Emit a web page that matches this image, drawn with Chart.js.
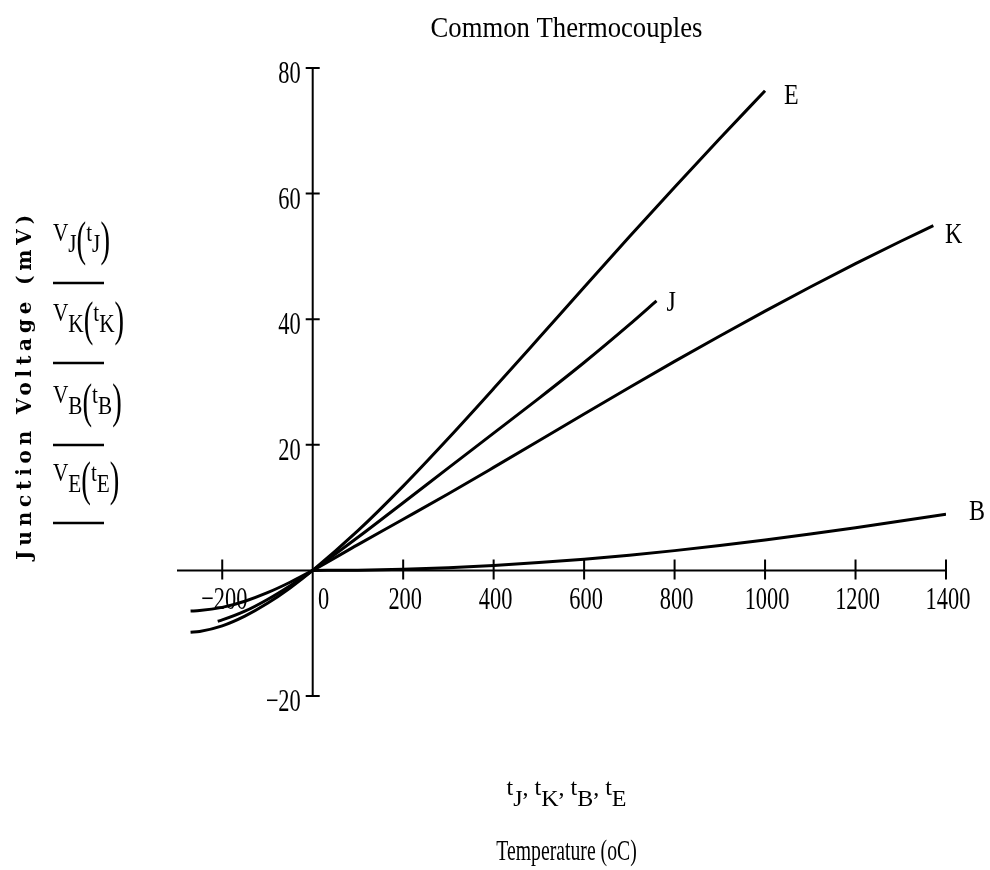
<!DOCTYPE html>
<html>
<head>
<meta charset="utf-8">
<title>Common Thermocouples</title>
<script src="https://cdn.jsdelivr.net/npm/chart.js@4.4.1/dist/chart.umd.min.js"></script>
<style>
  html, body { margin: 0; padding: 0; background: #fff; }
  #wrap { width: 990px; height: 870px; }
</style>
</head>
<body>
<div id="wrap"><canvas id="chart" width="990" height="870"></canvas></div>
<script>
/* Common Thermocouples — junction voltage (mV) vs temperature (°C)
   Mathcad-style plot: axes cross at the origin, ticks cross the axis lines. */

// ---------- data ----------
const J_TEMP = [-210, -200, -150, -100, -50, 0, 100, 200, 300, 400, 500, 600, 700, 760];
const J_MV   = [-8.10, -7.89, -6.50, -4.63, -2.43, 0, 5.27, 10.78, 16.33, 21.85, 27.39, 33.10, 39.13, 42.92];

const K_TEMP = [-270, -250, -200, -150, -100, -50, 0, 100, 200, 300, 400, 500, 600, 700, 800, 900, 1000, 1100, 1200, 1300, 1372];
const K_MV   = [-6.46, -6.40, -5.89, -4.91, -3.55, -1.89, 0, 4.10, 8.14, 12.21, 16.40, 20.64, 24.91, 29.13, 33.28, 37.33, 41.28, 45.12, 48.84, 52.41, 54.89];

const B_TEMP = [0, 100, 200, 300, 400, 500, 600, 700, 800, 900, 1000, 1100, 1200, 1300, 1400];
const B_MV   = [0, 0.03, 0.18, 0.43, 0.79, 1.24, 1.79, 2.43, 3.15, 3.96, 4.83, 5.78, 6.79, 7.85, 8.96];

const E_TEMP = [-270, -250, -200, -150, -100, -50, 0, 100, 200, 300, 400, 500, 600, 700, 800, 900, 1000];
const E_MV   = [-9.84, -9.72, -8.83, -7.28, -5.24, -2.79, 0, 6.32, 13.42, 21.04, 28.95, 37.00, 45.09, 53.11, 61.02, 68.79, 76.37];

const SERIES = ["J", "K", "B", "E"];

const X_MIN = -300, X_MAX = 1400;
const Y_MIN = -20, Y_MAX = 80;
const X_TICKS = [-200, 0, 200, 400, 600, 800, 1000, 1200, 1400];
const Y_TICKS = [-20, 0, 20, 40, 60, 80];

// curve end tags, anchored in data units (temperature, mV)
const TAG_TEMP = [782, 1398, 1451, 1042];
const TAG_MV   = [41.3, 52.2, 8.0, 74.3];

const TITLE = "Common Thermocouples";
const Y_TITLE = "Junction Voltage (mV)";
const X_TITLE = "Temperature (oC)";

// ---------- helpers ----------
const SERIF = '"Liberation Serif", "Times New Roman", serif';
const pts = (xs, ys) => xs.map((x, i) => ({ x, y: ys[i] }));

// draw text squeezed horizontally (the scan uses a narrow Times face)
function text(ctx, str, x, y, size, sx, align, weight) {
  ctx.save();
  ctx.font = (weight || "normal") + " " + size + "px " + SERIF;
  ctx.translate(x, y);
  ctx.scale(sx, 1);
  ctx.textAlign = align || "left";
  ctx.textBaseline = "alphabetic";
  ctx.fillText(str, 0, 0);
  const w = ctx.measureText(str).width * sx;
  ctx.restore();
  return w;
}

// run of pieces [str, size, sx, dy]; returns total width
function runWidth(ctx, parts) {
  let w = 0;
  for (const [s, size, sx] of parts) {
    ctx.font = size + "px " + SERIF;
    w += ctx.measureText(s).width * sx;
  }
  return w;
}
function drawRun(ctx, parts, x, base) {
  for (const [s, size, sx, dy] of parts) x += text(ctx, s, x, base + dy, size, sx);
}

// V_n(t_n) as Mathcad prints it
function fnParts(n) {
  return [["V", 25, 0.85, 0], [n, 25, 0.85, 11], ["(", 48, 0.6, 14], ["t", 25, 0.85, 0], [n, 25, 0.85, 11], [")", 48, 0.6, 14]];
}

// ---------- plugin: axes, ticks, labels ----------
const mathcadFrame = {
  id: "mathcadFrame",
  beforeDatasetsDraw(chart) {
    const { ctx, scales: { x, y } } = chart;
    const x0 = x.getPixelForValue(0), y0 = y.getPixelForValue(0);
    ctx.save();
    ctx.strokeStyle = "#000";
    ctx.lineWidth = 2;
    ctx.beginPath();
    ctx.moveTo(x.getPixelForValue(X_MIN), y0);
    ctx.lineTo(x.getPixelForValue(X_MAX), y0);
    ctx.moveTo(x0, y.getPixelForValue(Y_MIN));
    ctx.lineTo(x0, y.getPixelForValue(Y_MAX));
    for (const v of X_TICKS) {
      const px = x.getPixelForValue(v);
      ctx.moveTo(px, y0 - 11);
      ctx.lineTo(px, y0 + 9);
    }
    for (const v of Y_TICKS) {
      const py = y.getPixelForValue(v);
      ctx.moveTo(x0 - 7, py);
      ctx.lineTo(x0 + 7, py);
    }
    ctx.stroke();
    ctx.restore();
  },
  afterDraw(chart) {
    const { ctx, scales: { x, y } } = chart;
    const x0 = x.getPixelForValue(0), y0 = y.getPixelForValue(0);
    ctx.save();
    ctx.fillStyle = "#000";

    // tick labels
    for (const v of X_TICKS) {
      const px = x.getPixelForValue(v) + (v === 0 ? 11 : 2);
      text(ctx, v < 0 ? "\u2212" + (-v) : String(v), px, y0 + 39, 32, 0.7, "center");
    }
    for (const v of Y_TICKS) {
      if (v === 0) continue;
      text(ctx, v < 0 ? "\u2212" + (-v) : String(v), x0 - 12, y.getPixelForValue(v) + 15, 32, 0.7, "right");
    }

    // curve tags
    SERIES.forEach((n, i) => {
      text(ctx, n, x.getPixelForValue(TAG_TEMP[i]), y.getPixelForValue(TAG_MV[i]), 30, 0.8, "left");
    });

    // title
    const cx = (chart.chartArea.left + chart.chartArea.right) / 2 + 5;
    text(ctx, TITLE, cx, 37, 29, 0.92, "center");

    // x axis: variable names + caption
    const xp = [];
    SERIES.forEach((n, i) => {
      xp.push(["t", 24, 1, 0], [n, 24, 1, 11]);
      if (i < SERIES.length - 1) xp.push([", ", 24, 1, 0]);
    });
    drawRun(ctx, xp, cx - runWidth(ctx, xp) / 2, 795);
    text(ctx, X_TITLE, cx, 860, 29, 0.68, "center");

    // y axis: rotated bold caption, spaced out to its length in the scan
    ctx.save();
    ctx.translate(31, 385);
    ctx.rotate(-Math.PI / 2);
    ctx.font = 'bold 20px "DejaVu Serif", serif';
    const plain = ctx.measureText(Y_TITLE).width;
    ctx.letterSpacing = Math.max(0, (350 - plain) / Y_TITLE.length).toFixed(2) + "px";
    ctx.textAlign = "center";
    ctx.fillText(Y_TITLE, 0, 0);
    ctx.restore();

    // Mathcad trace legend: V_n(t_n) over a line sample
    const LEG_LINE = [283, 363, 445, 523];
    SERIES.forEach((n, i) => {
      drawRun(ctx, fnParts(n), 53, LEG_LINE[i] - 42);
      ctx.lineWidth = 2.5;
      ctx.beginPath();
      ctx.moveTo(53, LEG_LINE[i]);
      ctx.lineTo(104, LEG_LINE[i]);
      ctx.stroke();
    });
    ctx.restore();
  },
};

// ---------- chart ----------
const DATA = { J: [J_TEMP, J_MV], K: [K_TEMP, K_MV], B: [B_TEMP, B_MV], E: [E_TEMP, E_MV] };

new Chart(document.getElementById("chart"), {
  type: "scatter",
  data: {
    datasets: SERIES.map((n) => ({
      label: n,
      data: pts(DATA[n][0], DATA[n][1]),
      showLine: true,
      borderColor: "#000",
      borderWidth: 3,
      pointRadius: 0,
      cubicInterpolationMode: "monotone",
    })),
  },
  options: {
    responsive: false,
    animation: false,
    devicePixelRatio: 1,
    layout: { padding: { left: 177, right: 44, top: 68, bottom: 174 } },
    plugins: { legend: { display: false }, tooltip: { enabled: false }, title: { display: false } },
    scales: {
      x: { type: "linear", min: X_MIN, max: X_MAX, display: false },
      y: { type: "linear", min: Y_MIN, max: Y_MAX, display: false },
    },
  },
  plugins: [mathcadFrame],
});
</script>
</body>
</html>
